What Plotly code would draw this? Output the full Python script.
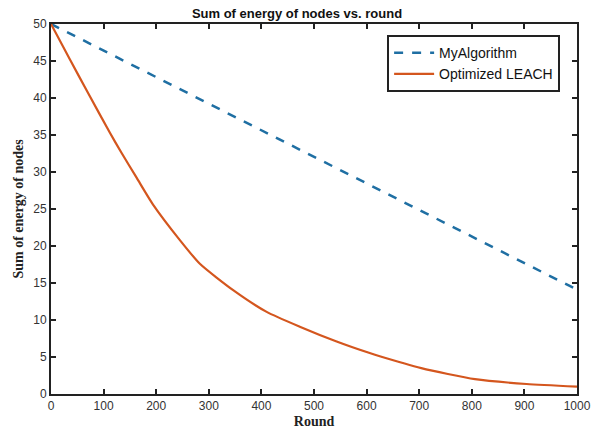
import plotly.graph_objects as go

my_rounds = [0, 1000]
my_energy = [50, 14.1]

leach_rounds = [0, 36, 71, 112, 134, 163, 194, 245, 283, 347, 410, 473, 543, 603, 625, 704, 806, 904, 1000]
leach_energy = [50, 45.2, 40.6, 35.3, 32.6, 29.2, 25.6, 20.8, 17.6, 14.0, 11.1, 9.1, 7.1, 5.6, 5.1, 3.5, 2.0, 1.35, 1.0]

x_ticks = [0, 100, 200, 300, 400, 500, 600, 700, 800, 900, 1000]
y_ticks = [0, 5, 10, 15, 20, 25, 30, 35, 40, 45, 50]

fig = go.Figure()
fig.add_trace(go.Scatter(x=my_rounds, y=my_energy, mode="lines", name="MyAlgorithm",
                         line=dict(color="#1f6fa3", width=2.5, dash="dash")))
fig.add_trace(go.Scatter(x=leach_rounds, y=leach_energy, mode="lines", name="Optimized LEACH",
                         line=dict(color="#d4561e", width=2.2, shape="spline", smoothing=0.6)))

axis_common = dict(showline=True, linecolor="#222", linewidth=2, mirror="ticks",
                   ticks="inside", ticklen=5, tickwidth=1.5, tickcolor="#222",
                   showgrid=False, zeroline=False, automargin=False,
                   tickfont=dict(family="Liberation Sans, Arial", size=12, color="#333"))

fig.update_layout(
    width=594, height=434,
    margin=dict(l=51, r=17, t=24, b=40),
    paper_bgcolor="white", plot_bgcolor="white",
    title=dict(text="<b>Sum of energy of nodes vs. round</b>", x=0.5, xanchor="center",
               y=1 - 13 / 434, yanchor="middle",
               font=dict(family="Liberation Sans, Arial", size=13, color="#111")),
    xaxis=dict(range=[0, 1000], tickvals=x_ticks, ticktext=[str(v) for v in x_ticks],
               title=dict(text="<b>Round</b>", standoff=4,
                          font=dict(family="Liberation Serif, DejaVu Serif", size=14, color="#222")),
               **axis_common),
    yaxis=dict(range=[0, 50], tickvals=y_ticks, ticktext=[str(v) for v in y_ticks],
               title=dict(text="<b>Sum of energy of nodes</b>", standoff=6,
                          font=dict(family="Liberation Serif, DejaVu Serif", size=14, color="#222")),
               **axis_common),
    legend=dict(x=0.639, y=0.97, xanchor="left", yanchor="top",
                bgcolor="white", bordercolor="#222", borderwidth=2,
                font=dict(family="Liberation Sans, Arial", size=14, color="#111"),
                tracegroupgap=0, itemwidth=40),
    showlegend=True,
)

fig.write_html("out.html", config={"displayModeBar": False},
               post_script="document.body.style.margin='0';document.body.style.overflow='hidden';")
